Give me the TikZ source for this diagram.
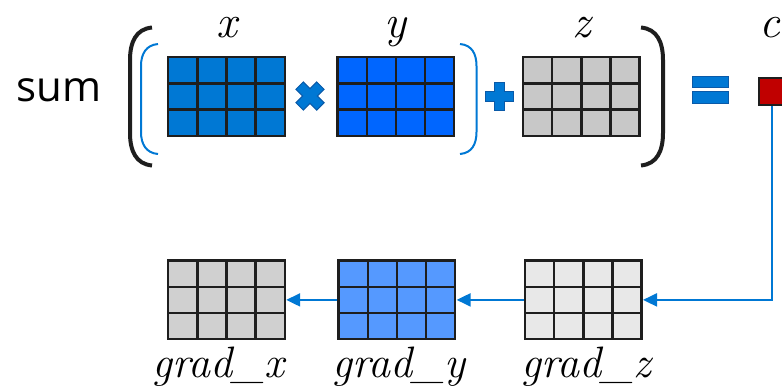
\documentclass[tikz,border=0pt]{standalone}
\usepackage{fontspec}
\newfontfamily\sumfont{Open Sans}
\usetikzlibrary{matrix,positioning,arrows.meta}
\definecolor{xblue}{HTML}{0078D4}
\definecolor{yblue}{HTML}{0066FF}
\definecolor{zgray}{HTML}{C8C8C8}
\definecolor{gxgray}{HTML}{D0D0D0}
\definecolor{gyblue}{HTML}{5599FF}
\definecolor{gzgray}{HTML}{E8E8E8}
\definecolor{cred}{HTML}{C00000}
\definecolor{gridline}{HTML}{1E1E1E}
\definecolor{opedge}{HTML}{0A5AA8}
\tikzset{
grid/.style={matrix of nodes,nodes in empty cells,inner sep=0pt,
nodes={draw=gridline,line width=2.4pt,minimum width=29.15pt,minimum height=26.2pt,inner sep=0pt},
row sep=-2.4pt,column sep=-2.4pt,ampersand replacement=\&,anchor=center},
xcells/.style={nodes={fill=xblue}},
ycells/.style={nodes={fill=yblue}},
zcells/.style={nodes={fill=zgray}},
gxcells/.style={nodes={fill=gxgray}},
gycells/.style={nodes={fill=gyblue}},
gzcells/.style={nodes={fill=gzgray}},
varlabel/.style={anchor=base,inner sep=0pt,font=\fontsize{46}{46}\selectfont\itshape},
gradlabel/.style={anchor=base,inner sep=0pt,font=\fontsize{44}{44}\selectfont\itshape},
bigparen/.style={line width=4pt,gridline},
smallparen/.style={line width=2pt,xblue},
opsym/.style={fill=xblue,draw=opedge,line width=1pt},
flowarrow/.style={-{Triangle[length=14pt,width=13pt]},line width=2pt,xblue},
opplus/.pic={
\path[opsym] (-5,-14) -- (5,-14) -- (5,-5) -- (14,-5) -- (14,5) -- (5,5) -- (5,14)
  -- (-5,14) -- (-5,5) -- (-14,5) -- (-14,-5) -- (-5,-5) -- cycle;
}
}
\begin{document}
\begin{tikzpicture}[x=1pt,y=-1pt]
\useasboundingbox (0,0) rectangle (782,389);
% forward pass
\node[anchor=base west,inner sep=0pt,font=\sumfont\fontsize{42}{42}\selectfont] (sum) at (16,101) {sum};
\matrix[grid,xcells] (xm) at (226.5,96.5) {
 \& \& \& \\
 \& \& \& \\
 \& \& \& \\
};
\matrix[grid,ycells,right=50pt of xm] (ym) {
 \& \& \& \\
 \& \& \& \\
 \& \& \& \\
};
\matrix[grid,zcells,right=66pt of ym] (zm) {
 \& \& \& \\
 \& \& \& \\
 \& \& \& \\
};
\node[varlabel] (lx) at (xm.center |- 0,37) {x};
\node[varlabel] (ly) at (ym.center |- 0,37) {y};
\node[varlabel] (lz) at (zm.center |- 0,37) {z};
\node[varlabel] (lc) at (770,37) {c};
\node[draw=gridline,fill=cred,line width=2pt,minimum size=26.5pt,inner sep=0pt,anchor=north west] (cbox) at (758,77) {};
% brackets
\draw[bigparen] (152,27.5) .. controls (136,29) and (130,42) .. (130,60) -- (130,133) .. controls (130,151) and (136,164) .. (152,165.5);
\draw[bigparen] (641,27.5) .. controls (657,29) and (663,42) .. (663,60) -- (663,133) .. controls (663,151) and (657,164) .. (641,165.5);
\draw[smallparen] (158,44) .. controls (146,45) and (141,54) .. (141,66) -- (141,132) .. controls (141,144) and (146,153) .. (158,154);
\draw[smallparen] (460,44) .. controls (472,45) and (476.5,54) .. (476.5,66) -- (476.5,132) .. controls (476.5,144) and (472,153) .. (460,154);
% operators
\pic[rotate=45,scale=1.05] at (310,96) {opplus};
\pic at (499.5,96.5) {opplus};
\draw[opsym] (692,76) rectangle (728,87);
\draw[opsym] (692,91) rectangle (728,103);
% backward pass
\matrix[grid,gxcells,below=122pt of xm] (gx) {
 \& \& \& \\
 \& \& \& \\
 \& \& \& \\
};
\matrix[grid,gycells,right=51pt of gx] (gy) {
 \& \& \& \\
 \& \& \& \\
 \& \& \& \\
};
\matrix[grid,gzcells,right=67pt of gy] (gz) {
 \& \& \& \\
 \& \& \& \\
 \& \& \& \\
};
\node[gradlabel] (lgx) at ([xshift=-8pt]gx.center |- 0,377) {grad\_x};
\node[gradlabel] (lgy) at ([xshift=2pt]gy.center |- 0,377) {grad\_y};
\node[gradlabel] (lgz) at ([xshift=3pt]gz.center |- 0,377) {grad\_z};
\draw[flowarrow] (cbox.south) |- (gz.east);
\draw[flowarrow] (gz.west) -- (gy.east);
\draw[flowarrow] (gy.west) -- (gx.east);
\end{tikzpicture}
\end{document}
